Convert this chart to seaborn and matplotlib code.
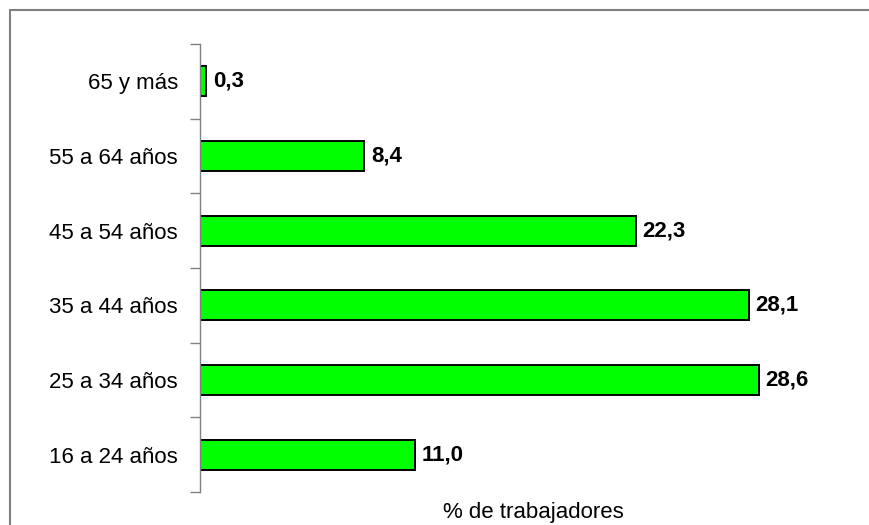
import numpy as np
import pandas as pd
import seaborn as sns
from matplotlib import pyplot as plt
from matplotlib.patches import Rectangle

grupos = ['65 y más', '55 a 64 años', '45 a 54 años', '35 a 44 años',
          '25 a 34 años', '16 a 24 años']
porcentaje = [0.3, 8.4, 22.3, 28.1, 28.6, 11.0]
etiquetas = ['0,3', '8,4', '22,3', '28,1', '28,6', '11,0']

df = pd.DataFrame({'grupo': grupos, 'pct': porcentaje})

sns.set_style('white')
plt.rcParams['font.family'] = ['Liberation Sans', 'DejaVu Sans']
plt.rcParams['text.color'] = 'black'
plt.rcParams['axes.labelcolor'] = 'black'
plt.rcParams['ytick.labelcolor'] = 'black'

fig = plt.figure(figsize=(8.7, 5.25), dpi=100)
ax = fig.add_axes([200 / 870, 33 / 525, 666 / 870, 448 / 525])

sns.barplot(data=df, x='pct', y='grupo', order=grupos, orient='h',
            color='#00FF00', edgecolor='black', linewidth=1.4,
            width=0.4, saturation=1, ax=ax)

# value labels
for i, (v, t) in enumerate(zip(porcentaje, etiquetas)):
    ax.text(v + 0.35, i, t, va='center', ha='left', fontsize=16,
            fontweight='bold', color='black')

ax.set_xlim(0, 34.1)
ax.set_ylim(len(grupos) - 0.5, -0.5)

for s in ['top', 'right', 'bottom']:
    ax.spines[s].set_visible(False)
ax.spines['left'].set_color('#808080')
ax.spines['left'].set_linewidth(1)

ax.set_xticks([])
ax.set_yticks(range(len(grupos)))
ax.set_yticklabels(grupos, fontsize=16, color='black')
ax.set_yticks(np.arange(-0.5, len(grupos)), minor=True)
ax.tick_params(axis='y', which='major', left=False, length=0, pad=16)
ax.tick_params(axis='y', which='minor', left=True, length=7,
               color='#808080', width=1)

ax.set_ylabel('')
ax.set_xlabel('% de trabajadores', fontsize=16, labelpad=7, color='black')

# outer frame (cropped chart area)
fig.patches.append(Rectangle((10 / 870, -0.1), 1.1, (515 / 525) + 0.1,
                             transform=fig.transFigure, fill=False,
                             edgecolor='#808080', linewidth=1.5))

fig.savefig('out.png', dpi=100)
